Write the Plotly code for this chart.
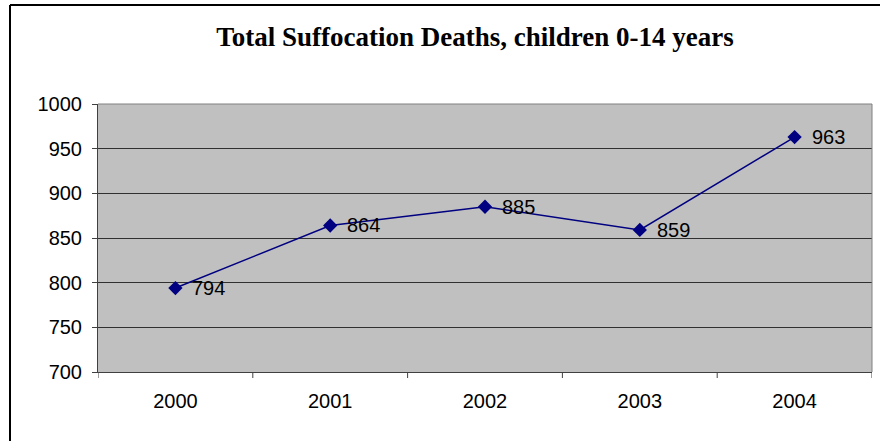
import plotly.graph_objects as go

years = ["2000", "2001", "2002", "2003", "2004"]
deaths = [794, 864, 885, 859, 963]
y_ticks = [700, 750, 800, 850, 900, 950, 1000]

W, H = 880, 441
L, R, T, B = 98, 8, 104, 69
SANS = "Liberation Sans, Arial"

fig = go.Figure()
fig.add_trace(go.Scatter(
    x=years, y=deaths,
    mode="lines+markers",
    line=dict(color="#000080", width=1.5),
    marker=dict(symbol="diamond", size=11, color="#000080"),
    cliponaxis=False,
    showlegend=False,
))

# value labels to the right of each point (category index on the x axis)
for i, v in enumerate(deaths):
    fig.add_annotation(
        x=i, y=v, xref="x", yref="y",
        text=str(v), showarrow=False,
        xanchor="left", yanchor="middle", xshift=15,
        font=dict(family=SANS, size=20, color="black"),
    )

fig.update_layout(
    width=W, height=H,
    margin=dict(l=L, r=R, t=T, b=B),
    paper_bgcolor="white",
    plot_bgcolor="#C0C0C0",
    title=dict(
        text="<b>Total Suffocation Deaths, children 0-14 years</b>",
        x=475 / W, xanchor="center", xref="container",
        y=1 - 37 / H, yanchor="middle", yref="container",
        font=dict(family="Liberation Serif, Times New Roman", size=27, color="black"),
    ),
    xaxis=dict(
        type="category",
        range=[-0.5, 4.5],
        showgrid=False,
        showline=True, linecolor="#404040", linewidth=1,
        ticks="", tickfont=dict(family=SANS, size=20, color="black"),
        ticklabelstandoff=11,
        zeroline=False,
    ),
    yaxis=dict(
        range=[700, 1000],
        tickvals=y_ticks,
        showgrid=True, gridcolor="#303030", gridwidth=1,
        showline=True, linecolor="#404040", linewidth=1,
        ticks="outside", ticklen=5, tickcolor="#404040",
        tickfont=dict(family=SANS, size=20, color="black"),
        ticklabelstandoff=6,
        zeroline=False,
    ),
)

# plot area outline on top and right (lighter gray)
fig.add_shape(type="line", xref="paper", yref="paper", x0=0, x1=1, y0=1, y1=1,
              line=dict(color="#808080", width=1))
fig.add_shape(type="line", xref="paper", yref="paper", x0=1, x1=1, y0=0, y1=1,
              line=dict(color="#808080", width=1))

# category boundary tick marks below the x axis
for i in range(len(years) + 1):
    fig.add_shape(type="line", xref="x", yref="paper",
                  x0=i - 0.5, x1=i - 0.5, y0=0, y1=-6 / (H - T - B),
                  line=dict(color="#404040", width=1))

# chart frame (top and left edges)
fx0 = (10 - L) / (W - L - R)
fy_top = 1 + (T - 5) / (H - T - B)
fy_bot = -B / (H - T - B) - 0.01
fig.add_shape(type="line", xref="paper", yref="paper", x0=fx0, x1=1 + R / (W - L - R) + 0.01,
              y0=fy_top, y1=fy_top, line=dict(color="black", width=2))
fig.add_shape(type="line", xref="paper", yref="paper", x0=fx0, x1=fx0,
              y0=fy_top, y1=fy_bot, line=dict(color="black", width=2))

fig.write_html("out.html")
